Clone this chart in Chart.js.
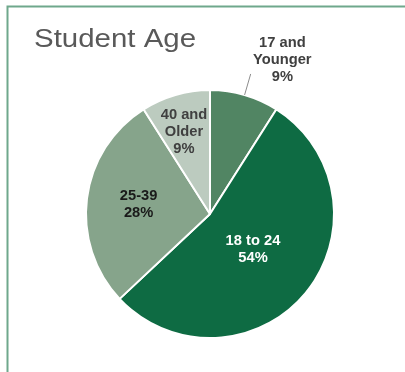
<!DOCTYPE html>
<html>
<head>
<meta charset="utf-8">
<title>Student Age</title>
<script src="https://cdn.jsdelivr.net/npm/chart.js@4"></script>
<style>
  html, body { margin: 0; padding: 0; background: #ffffff; }
  canvas { display: block; }
</style>
</head>
<body>
<canvas id="chart" width="405" height="372"></canvas>
<script>
// Age groups and their share of the student body (percent)
const categories = ['17 and Younger', '18 to 24', '25-39', '40 and Older'];
const labelLines = [['17 and', 'Younger'], ['18 to 24'], ['25-39'], ['40 and', 'Older']];
const shares = [9, 54, 28, 9];
const sliceColors = ['#518563', '#0e6b43', '#86a48b', '#bccbbf'];
const labelColors = ['#404040', '#ffffff', '#1a1a1a', '#404040'];

// Where each label sits: distance from centre as a fraction of the radius,
// and an extra turn (degrees) from the slice's middle angle.
const labelRadius = [1.37, 0.45, 0.58, 0.69];
const labelTurn = [9, 0, 0, -1.5];
const leaderLine = [true, false, false, false];

const FONT = '"Liberation Sans", Arial, Helvetica, sans-serif';

// Thin green frame along the top and left edges
const framePlugin = {
  id: 'frame',
  beforeDraw(chart) {
    const ctx = chart.ctx;
    ctx.save();
    ctx.strokeStyle = '#6fa88c';
    ctx.lineWidth = 2;
    ctx.beginPath();
    ctx.moveTo(7.5, 5.5);
    ctx.lineTo(7.5, chart.height);
    ctx.moveTo(6.5, 6.5);
    ctx.lineTo(chart.width, 6.5);
    ctx.stroke();
    ctx.restore();
  }
};

// Heading in the upper-left corner
const headingPlugin = {
  id: 'heading',
  afterDraw(chart) {
    const ctx = chart.ctx;
    ctx.save();
    ctx.font = '26px ' + FONT;
    ctx.fillStyle = '#595959';
    ctx.textBaseline = 'alphabetic';
    const text = 'Student Age';
    const w = ctx.measureText(text).width;
    const sx = 162 / w;
    ctx.translate(34, 47);
    ctx.scale(sx, 1);
    ctx.fillText(text, 0, 0);
    ctx.restore();
  }
};

// Category name and percentage on every slice
const sliceLabelPlugin = {
  id: 'sliceLabels',
  afterDatasetsDraw(chart) {
    const ctx = chart.ctx;
    const meta = chart.getDatasetMeta(0);
    const lineH = 17;
    ctx.save();
    ctx.font = 'bold 14px ' + FONT;
    ctx.textAlign = 'center';
    ctx.textBaseline = 'middle';
    meta.data.forEach((arc, i) => {
      const { x, y, startAngle, endAngle, outerRadius } = arc.getProps(
        ['x', 'y', 'startAngle', 'endAngle', 'outerRadius'], true);
      const mid = (startAngle + endAngle) / 2;
      if (leaderLine[i]) {
        ctx.strokeStyle = '#8c8c8c';
        ctx.lineWidth = 1;
        ctx.beginPath();
        ctx.moveTo(x + Math.cos(mid) * outerRadius, y + Math.sin(mid) * outerRadius);
        ctx.lineTo(x + Math.cos(mid) * outerRadius * 1.176, y + Math.sin(mid) * outerRadius * 1.176);
        ctx.stroke();
      }
      const a = mid + labelTurn[i] * Math.PI / 180;
      const cx = x + Math.cos(a) * outerRadius * labelRadius[i];
      const cy = y + Math.sin(a) * outerRadius * labelRadius[i];
      const lines = labelLines[i].concat([shares[i] + '%']);
      const top = cy - (lines.length - 1) * lineH / 2;
      ctx.fillStyle = labelColors[i];
      lines.forEach((t, k) => {
        ctx.save();
        ctx.translate(cx, top + k * lineH);
        ctx.scale(1.05, 1);
        ctx.fillText(t, 0, 0);
        ctx.restore();
      });
    });
    ctx.restore();
  }
};

new Chart(document.getElementById('chart'), {
  type: 'pie',
  data: {
    labels: categories,
    datasets: [{
      data: shares,
      backgroundColor: sliceColors,
      borderColor: '#ffffff',
      borderWidth: 2,
      radius: 124
    }]
  },
  options: {
    responsive: false,
    animation: false,
    devicePixelRatio: 1,
    layout: { padding: { left: 86, right: 71, top: 90, bottom: 34 } },
    plugins: {
      legend: { display: false },
      tooltip: { enabled: false },
      title: { display: false }
    }
  },
  plugins: [framePlugin, headingPlugin, sliceLabelPlugin]
});
</script>
</body>
</html>
